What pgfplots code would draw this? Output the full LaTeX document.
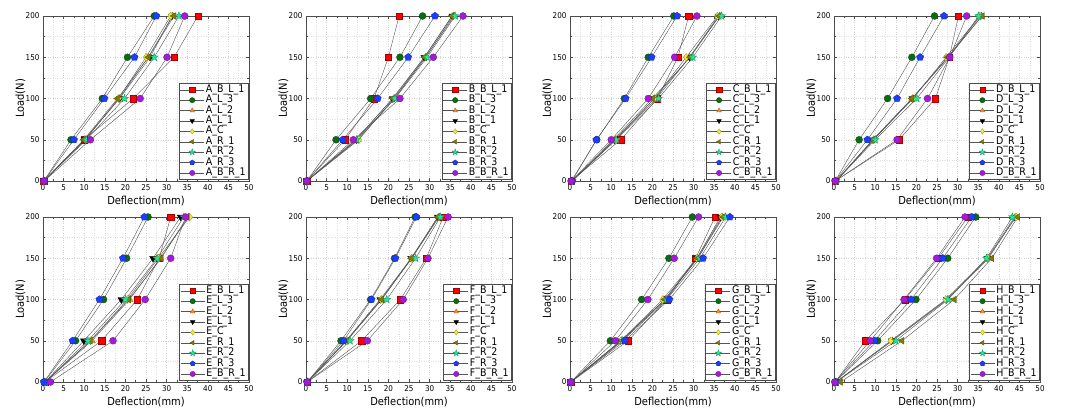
\documentclass[border=0pt]{standalone}
\usepackage{pgfplots}
\usepackage{pgfplotstable}
\pgfplotsset{compat=1.18}
\usepackage{fontspec}
\setmainfont{DejaVu Sans Condensed}
\usetikzlibrary{plotmarks}

\pgfdeclareplotmark{fstar}{%
  \pgfpathmoveto{\pgfpointpolar{90}{1.25\pgfplotmarksize}}%
  \pgfpathlineto{\pgfpointpolar{126}{0.5\pgfplotmarksize}}%
  \pgfpathlineto{\pgfpointpolar{162}{1.25\pgfplotmarksize}}%
  \pgfpathlineto{\pgfpointpolar{198}{0.5\pgfplotmarksize}}%
  \pgfpathlineto{\pgfpointpolar{234}{1.25\pgfplotmarksize}}%
  \pgfpathlineto{\pgfpointpolar{270}{0.5\pgfplotmarksize}}%
  \pgfpathlineto{\pgfpointpolar{306}{1.25\pgfplotmarksize}}%
  \pgfpathlineto{\pgfpointpolar{342}{0.5\pgfplotmarksize}}%
  \pgfpathlineto{\pgfpointpolar{18}{1.25\pgfplotmarksize}}%
  \pgfpathlineto{\pgfpointpolar{54}{0.5\pgfplotmarksize}}%
  \pgfpathclose\pgfusepathqfillstroke}

\definecolor{cR}{HTML}{FF0000}
\definecolor{cG}{HTML}{0B6B12}
\definecolor{cO}{HTML}{FF8A20}
\definecolor{cK}{HTML}{000000}
\definecolor{cY}{HTML}{F2E836}
\definecolor{cOl}{HTML}{7F7A00}
\definecolor{cT}{HTML}{22E69A}
\definecolor{cB}{HTML}{1C3CFF}
\definecolor{cP}{HTML}{A21CD6}
\definecolor{lnc}{HTML}{555555}

\pgfplotsset{
  ser/.style n args={4}{color=lnc, line width=0.4pt, mark=#1, mark size=#3,
     mark options={solid, fill=#2, draw=#2!65!black, line width=0.3pt, #4}},
  s1/.style={ser={square*}{cR}{3.2pt}{}},
  s2/.style={ser={*}{cG}{3.5pt}{}},
  s3/.style={ser={triangle*}{cO}{3.9pt}{}},
  s4/.style={ser={triangle*}{cK}{3.9pt}{rotate=180}},
  s5/.style={ser={diamond*}{cY}{3.9pt}{}},
  s6/.style={ser={triangle*}{cOl}{3.9pt}{rotate=90}},
  s7/.style={ser={fstar}{cT}{3.4pt}{}},
  s8/.style={ser={pentagon*}{cB}{3.8pt}{}},
  s9/.style={ser={*}{cP}{3.5pt}{}},
  base/.style={
    scale only axis, width=206pt, height=165pt, anchor=south west,
    xmin=0, xmax=50, ymin=0, ymax=200,
    xtick={0,5,...,50}, ytick={0,50,...,200},
    minor x tick num=1, minor y tick num=1,
    grid=both,
    major grid style={gray!35, dotted, line width=0.4pt},
    minor grid style={gray!25, dotted, line width=0.4pt},
    axis line style={gray!60!black, line width=0.6pt},
    major tick length=3pt, minor tick length=1.6pt,
    tick style={gray!60!black, line width=0.5pt},
    tick label style={font=\fontsize{8}{9}\selectfont},
    /pgf/number format/assume math mode=true,
    xlabel={Deflection(mm)}, ylabel={Load(N)},
    label style={font=\fontsize{11}{12}\selectfont},
    xlabel style={at={(axis description cs:0.5,-0.12)}, anchor=center},
    ylabel style={at={(axis description cs:-0.11,0.5)}, anchor=center},
    legend cell align=left,
    legend image code/.code={%
      \draw[mark repeat=2,mark phase=2] plot coordinates {(0pt,0pt) (12pt,0pt) (24pt,0pt)};},
    legend image post style={mark size=2.7pt},
    legend style={at={(0.997,0.008)}, anchor=south east,
      font=\fontsize{10.5}{10}\selectfont, draw=gray!60!black, line width=0.6pt,
      inner xsep=1pt, inner ysep=1.2pt, row sep=0pt, fill=white,
      nodes={inner xsep=1.5pt, inner ysep=0pt, text height=7.8pt, text depth=2.6pt}},
  }
}

\newcommand{\panel}[4]{%
\begin{axis}[base, at={(#1pt,#2pt)}]
\addplot[s1] table[x=s1,y=load]{#3}; \addlegendentry{#4\_B\_L\_1}
\addplot[s2] table[x=s2,y=load]{#3}; \addlegendentry{#4\_L\_3}
\addplot[s3] table[x=s3,y=load]{#3}; \addlegendentry{#4\_L\_2}
\addplot[s4] table[x=s4,y=load]{#3}; \addlegendentry{#4\_L\_1}
\addplot[s5] table[x=s5,y=load]{#3}; \addlegendentry{#4\_C}
\addplot[s6] table[x=s6,y=load]{#3}; \addlegendentry{#4\_R\_1}
\addplot[s7] table[x=s7,y=load]{#3}; \addlegendentry{#4\_R\_2}
\addplot[s8] table[x=s8,y=load]{#3}; \addlegendentry{#4\_R\_3}
\addplot[s9] table[x=s9,y=load]{#3}; \addlegendentry{#4\_B\_R\_1}
\end{axis}}

\pgfplotstableread{
load s1 s2 s3 s4 s5 s6 s7 s8 s9
0 0.2 0.2 0.2 0.2 0.2 0.2 0.2 0.2 0.3
50 10.0 6.8 10.2 10.0 10.3 9.9 10.5 7.5 11.5
100 21.9 14.4 18.5 18.6 18.3 18.1 19.8 14.9 23.6
150 31.8 20.5 25.5 26.0 25.0 25.6 27.0 22.2 30.1
200 37.6 27.0 31.5 31.3 31.0 31.8 33.0 27.5 34.4
}\dataA
\pgfplotstableread{
load s1 s2 s3 s4 s5 s6 s7 s8 s9
0 0.2 0.2 0.2 0.2 0.2 0.2 0.2 0.2 0.2
50 9.5 7.3 12.6 12.2 12.8 12.0 12.3 8.9 11.5
100 16.5 15.7 21.5 21.0 21.3 21.1 21.6 17.4 22.8
150 20.0 22.8 29.0 28.7 29.1 28.8 29.4 24.8 30.9
200 22.6 28.3 36.0 35.5 35.7 35.4 36.2 31.3 38.1
}\dataB
\pgfplotstableread{
load s1 s2 s3 s4 s5 s6 s7 s8 s9
0 0.3 0.3 0.5 0.5 0.5 0.5 0.5 0.5 0.3
50 12.3 6.5 11.0 10.8 11.0 10.5 11.2 6.4 10.0
100 21.2 13.2 21.0 20.5 20.5 20.0 21.5 13.5 19.0
150 26.2 19.0 29.0 29.0 28.2 29.2 29.8 19.8 25.4
200 28.8 25.2 36.3 36.0 35.8 36.2 36.8 26.0 30.8
}\dataC
\pgfplotstableread{
load s1 s2 s3 s4 s5 s6 s7 s8 s9
0 0.3 0.3 0.5 0.5 0.5 0.5 0.5 0.3 0.3
50 15.8 6.1 9.6 9.5 9.6 9.4 10.0 8.1 15.3
100 24.6 13.0 19.0 19.0 19.2 18.9 20.1 15.3 22.7
150 28.0 18.9 27.8 27.6 27.2 27.6 28.0 20.9 28.1
200 30.2 24.4 35.8 35.5 35.4 36.0 35.1 26.7 32.2
}\dataD
\pgfplotstableread{
load s1 s2 s3 s4 s5 s6 s7 s8 s9
0 0.5 0.3 0.5 0.5 0.5 0.5 0.5 0.2 1.8
50 14.2 7.9 11.9 9.9 11.5 11.5 10.9 7.2 17.0
100 22.9 14.7 21.0 19.0 20.5 20.8 20.0 13.7 24.8
150 28.2 20.3 28.5 26.7 28.0 28.7 27.7 19.4 31.0
200 31.0 25.5 35.3 33.4 35.6 35.0 34.2 24.6 34.6
}\dataE
\pgfplotstableread{
load s1 s2 s3 s4 s5 s6 s7 s8 s9
0 0.3 0.3 0.3 0.3 0.3 0.3 0.3 0.3 0.3
50 13.5 8.5 9.8 9.7 9.9 9.9 10.7 9.1 14.9
100 22.9 15.7 18.3 18.0 18.2 18.4 19.6 15.9 23.6
150 29.2 21.5 25.7 25.5 25.6 25.6 26.6 21.7 29.6
200 33.3 26.5 32.2 32.0 32.3 32.0 32.6 26.8 34.5
}\dataF
\pgfplotstableread{
load s1 s2 s3 s4 s5 s6 s7 s8 s9
0 0.2 0.2 0.2 0.2 0.2 0.2 0.2 0.2 0.2
50 14.1 9.8 12.5 12.3 12.3 12.6 12.8 13.3 11.0
100 23.5 17.4 23.2 23.0 22.5 23.0 23.5 24.1 18.9
150 30.5 24.0 31.0 30.8 30.8 31.0 31.5 32.3 25.3
200 35.2 29.7 37.0 36.5 36.8 37.2 37.8 38.8 31.2
}\dataG
\pgfplotstableread{
load s1 s2 s3 s4 s5 s6 s7 s8 s9
0 0.3 0.3 0.5 0.5 0.5 1.6 0.5 0.3 0.2
50 7.6 10.6 14.2 14.0 13.8 16.5 15.0 9.8 8.8
100 17.2 19.9 27.5 27.3 27.1 29.2 27.7 18.7 17.0
150 25.3 27.6 37.5 37.2 37.3 38.3 37.0 26.4 24.9
200 32.5 34.4 44.0 43.8 44.2 44.6 43.3 33.4 31.8
}\dataH

\begin{document}
\begin{tikzpicture}
\useasboundingbox (0pt,0pt) rectangle (1068pt,408pt);
\panel{43}{227}{\dataA}{A}
\panel{306}{227}{\dataB}{B}
\panel{570}{227}{\dataC}{C}
\panel{834}{227}{\dataD}{D}
\panel{43}{26}{\dataE}{E}
\panel{306}{26}{\dataF}{F}
\panel{570}{26}{\dataG}{G}
\panel{834}{26}{\dataH}{H}
\end{tikzpicture}
\end{document}
